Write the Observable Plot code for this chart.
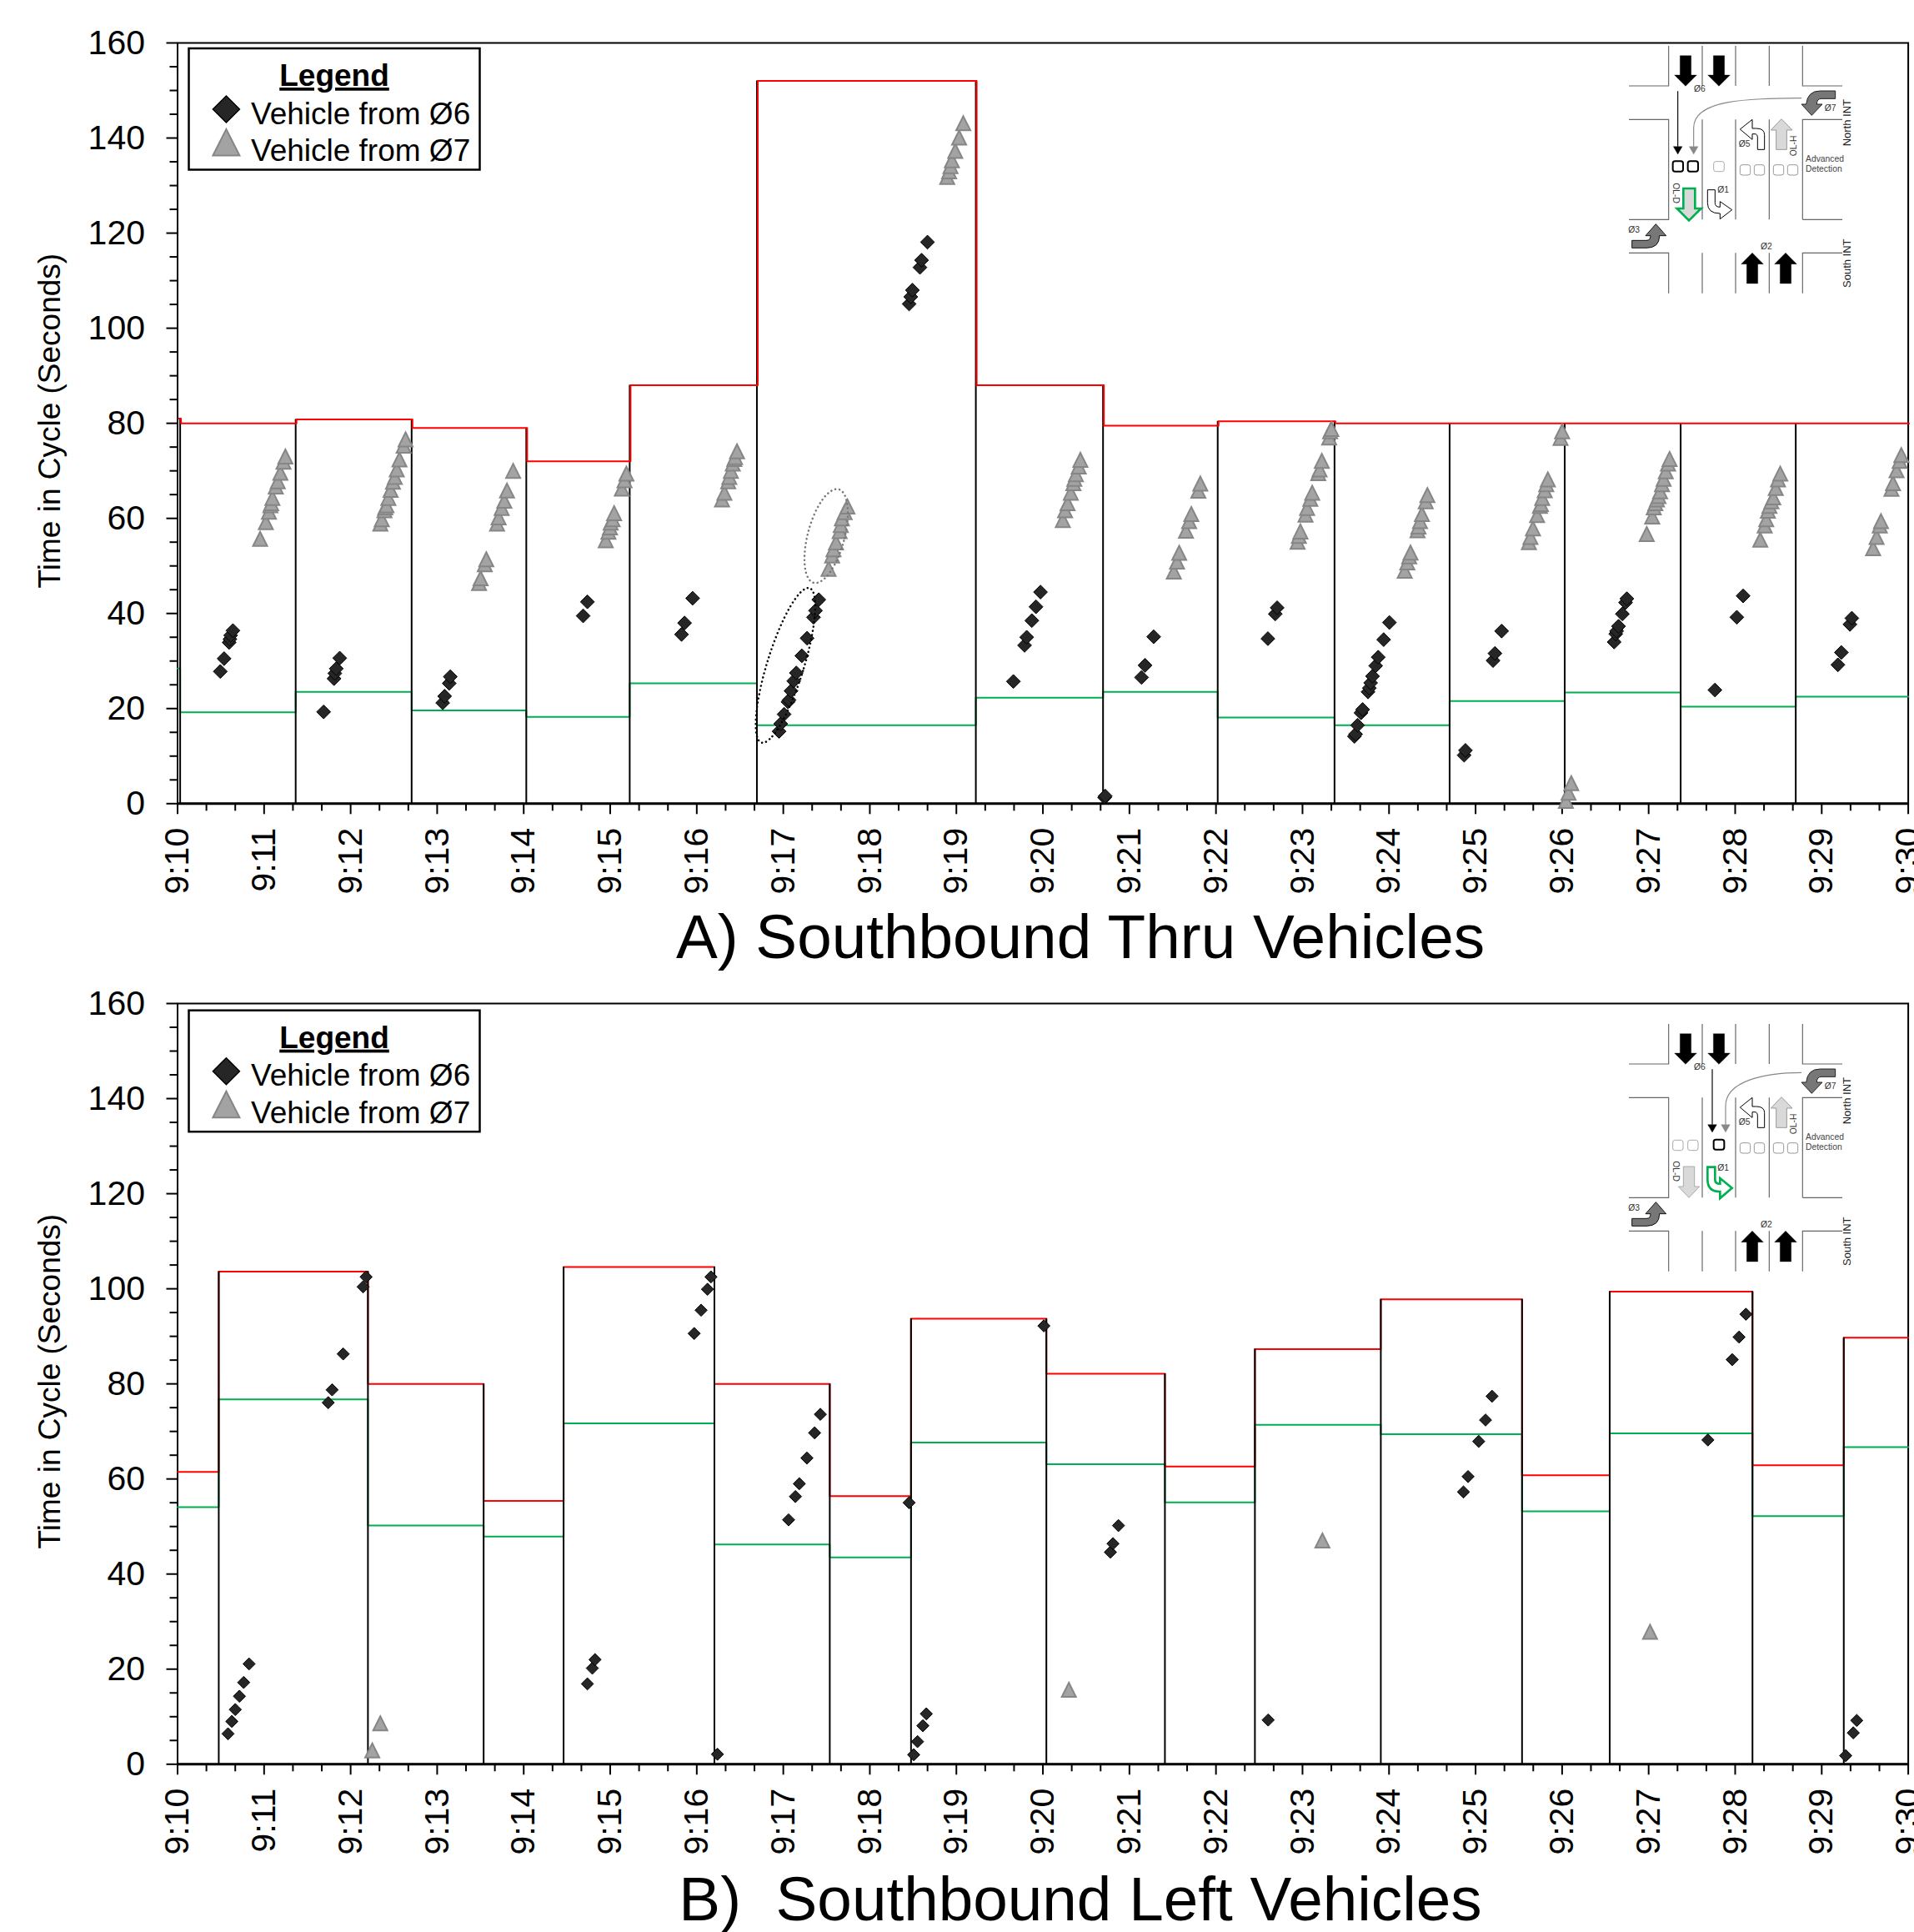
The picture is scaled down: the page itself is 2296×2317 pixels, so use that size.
<!DOCTYPE html>
<html><head><meta charset="utf-8">
<script src="https://cdn.jsdelivr.net/npm/d3@7"></script>
<script src="https://cdn.jsdelivr.net/npm/@observablehq/plot@0.6"></script>
<style>
html,body{margin:0;padding:0;background:#fff;}
body{position:relative;width:2296px;height:2317px;overflow:hidden;font-family:"Liberation Sans",Arial,sans-serif;}
.chart{position:absolute;left:0;}
.title{position:absolute;left:1296px;transform:translateX(-50%);font-size:74.7px;line-height:80px;white-space:pre;color:#000;}
</style></head><body>
<div id="a" class="chart" style="top:0"></div>
<div class="title" style="top:1083px">A) Southbound Thru Vehicles</div>
<div id="b" class="chart" style="top:1152.3px"></div>
<div class="title" style="top:2237px">B)  Southbound Left Vehicles</div>
<script>
// Axis content
const tickLabels = ["9:10","9:11","9:12","9:13","9:14","9:15","9:16","9:17","9:18","9:19","9:20","9:21","9:22","9:23","9:24","9:25","9:26","9:27","9:28","9:29","9:30"];
const majorXTicks = d3.range(0,21);
const minorXTicks = d3.range(0,20).flatMap(m=>[m+1/3,m+2/3]);
const majorYTicks = d3.range(0,161,20);
const minorYTicks = d3.range(5,160,5).filter(v=>v%20);

// Panel A: cycle starts (minutes after 9:10), red and green levels (s)
const thruStarts = [0,0.03,1.365,2.705,4.03,5.225,6.695,9.225,10.695,12.02,13.37,14.70,16.03,17.37,18.70];
const thruRed    = [81,80,80.8,79,72,88,152,88,79.5,80.4,80,80,80,80,80];
const thruGreen  = [28.4,19.2,23.5,19.6,18.25,25.3,16.5,22.3,23.5,18.1,16.5,21.6,23.4,20.4,22.5];
// Panel A vehicles [minutes after 9:10, seconds in cycle]
const thruFrom6 = [[.494,27.8],[.538,30.5],[.596,33.9],[.605,34.6],[.614,35.4],[.64,36.4],
[1.688,19.3],[1.808,26.3],[1.817,27.4],[1.834,28.4],[1.874,30.6],
[3.064,21.2],[3.086,22.6],[3.139,25.3],[3.152,26.7],
[4.687,39.5],[4.736,42.45],
[5.824,35.6],[5.859,38],[5.952,43.2],
[6.951,15.2],[6.97,16.8],[7.009,18.8],[7.054,21.4],[7.067,21.8],[7.089,23.7],[7.121,25.8],[7.15,27.5],[7.214,31.1],[7.275,34.8],[7.349,39.2],[7.372,40.6],[7.41,42.9],
[8.454,105.1],[8.473,106.6],[8.492,108],[8.579,112.8],[8.598,114.3],[8.666,118.1],
[9.659,25.7],[9.788,33.3],[9.813,35],[9.872,38.5],[9.92,41.4],[9.972,44.5],
[10.713,1.3],[10.72,1.6],[11.14,26.55],[11.18,29.1],[11.28,35.1],
[12.6,34.7],[12.685,39.9],[12.707,41.2],
[13.6,14.15],[13.614,14.6],[13.636,16.5],[13.676,19.1],[13.695,19.8],[13.757,23.5],[13.772,24.3],[13.787,25.4],[13.809,26.8],[13.846,29],[13.875,30.8],[13.938,34.5],[14.004,38.1],
[14.868,10.2],[14.883,11.2],[15.202,30.1],[15.224,31.6],[15.301,36.3],
[16.601,34],[16.62,35.7],[16.63,36.3],[16.652,37.3],[16.696,39.9],[16.733,42.3],[16.748,43.1],
[17.766,23.9],[18.019,39.2],[18.092,43.7],
[19.187,29.2],[19.227,31.8],[19.326,37.7],[19.348,39]];
const thruFrom7 = [[.954,55.7],[1.02,59.2],[1.056,61.4],[1.073,62.75],[1.082,63.2],[1.096,64.3],[1.135,66.7],[1.158,67.8],[1.188,69.6],[1.224,71.9],[1.246,73],
[2.343,58.9],[2.36,59.8],[2.391,61.7],[2.4,62.3],[2.414,62.75],[2.436,64.3],[2.462,66],[2.489,67.7],[2.511,68.7],[2.533,70.3],[2.564,72.4],[2.613,75.3],[2.635,76.6],
[3.484,46.4],[3.502,47.4],[3.55,50.35],[3.568,51.4],[3.692,58.9],[3.71,60.2],[3.745,62.2],[3.776,63.7],[3.807,65.85],[3.878,70],
[4.948,55.4],[4.979,57.2],[4.997,58.1],[5.005,59.1],[5.028,59.8],[5.045,61.1],[5.134,66.25],[5.165,68],[5.187,69.4],
[6.292,64],[6.319,65.4],[6.363,67.8],[6.376,68.7],[6.394,70],[6.416,71.5],[6.434,72.5],[6.443,72.9],[6.465,74.1],
[7.523,49.4],[7.564,52.2],[7.58,53.5],[7.609,54.96],[7.651,57.3],[7.664,58.6],[7.677,60],[7.709,61.3],[7.741,62.5],
[8.894,131.8],[8.916,133],[8.932,134.1],[8.948,135.3],[8.987,137.3],[9.032,140.1],[9.08,143.1],
[10.23,59.65],[10.256,61.7],[10.285,63.2],[10.322,65.4],[10.352,67.4],[10.363,68.3],[10.381,69.3],[10.414,70.9],[10.433,72.3],
[11.513,48.8],[11.55,50.9],[11.575,52.75],[11.653,57.4],[11.69,59.4],[11.715,60.9],[11.796,65.8],[11.819,67.3],
[12.943,55.1],[12.958,56.3],[12.976,57.25],[13.035,60.8],[13.053,62.2],[13.09,64.1],[13.112,65.4],[13.182,69.5],[13.197,70.3],[13.223,72.1],[13.308,77],[13.319,78.3],[13.333,78.8],
[14.181,49],[14.211,50.75],[14.233,52],[14.248,52.8],[14.329,57.5],[14.34,58.3],[14.358,59.4],[14.38,60.9],[14.424,63.6],[14.443,64.9],
[15.616,55],[15.634,56.1],[15.663,57.9],[15.711,60.7],[15.744,62.6],[15.755,63],[15.77,64.3],[15.799,65.9],[15.817,67.2],[15.835,68.2],[15.982,76.9],[16,78.3],
[16.044,.6],[16.074,2.3],[16.106,4.3],
[16.978,56.7],[17.041,60.4],[17.059,62.3],[17.077,63.2],[17.096,64],[17.114,64.7],[17.132,65.7],[17.154,67.2],[17.173,68.3],[17.198,69.9],[17.224,71.5],[17.242,72.5],
[18.29,55.5],[18.341,58.5],[18.359,59.8],[18.378,61.6],[18.396,62.6],[18.418,63.6],[18.44,64.4],[18.469,66.4],[18.495,68.2],[18.521,69.4],
[19.594,53.7],[19.634,56.1],[19.671,58.5],[19.685,59.4],[19.806,66.2],[19.824,67.4],[19.865,70.1],[19.901,72.1],[19.92,73.3]];

// Panel B
const leftStarts = [0,.476,2.2,3.537,4.461,6.204,7.537,8.476,10.04,11.41,12.45,13.905,15.537,16.55,18.2,19.255];
const leftRed    = [61.5,103.6,80,55.4,104.6,80,56.4,93.7,82.15,62.6,87.3,97.8,60.8,99.4,62.9,89.7];
const leftGreen  = [54.07,76.75,50.2,47.9,71.7,46.2,43.5,67.66,63.1,55.1,71.4,69.4,53.2,69.6,52.2,66.7];
const leftFrom6 = [[.583,6.4],[.627,9],[.667,11.5],[.715,14.3],[.764,17.2],[.826,21.1],[1.741,76.05],[1.786,78.75],[1.914,86.3],[2.144,100.4],[2.179,102.5],
[4.736,16.9],[4.793,20.2],[4.824,22],[5.97,90.6],[6.05,95.5],[6.124,99.9],[6.164,102.5],[6.239,2.1],
[7.061,51.4],[7.14,56.3],[7.185,59],[7.273,64.4],[7.362,69.7],[7.428,73.6],[8.454,55],
[8.507,2],[8.551,4.76],[8.613,8.1],[8.653,10.6],[10.011,92.2],[10.78,44.6],[10.81,46.4],[10.873,50.2],[12.603,9.3],
[14.86,57.26],[14.913,60.5],[15.036,67.9],[15.115,72.4],[15.19,77.4],[17.685,68.2],[17.966,85.1],[18.045,89.85],[18.124,94.65],
[19.277,1.8],[19.365,6.6],[19.405,9.2]];
const leftFrom7 = [[2.25,2.9],[2.343,8.6],[10.3,15.65],[13.23,47.06],[17.016,27.85]];

const FONT = '"Liberation Sans",Arial,sans-serif';
const tallTriangle = {draw(c,size){const s=Math.sqrt(size),w=.6*s,h=.6*s;c.moveTo(0,-h);c.lineTo(w,h);c.lineTo(-w,h);c.closePath();}};

function levelRows(starts,levels){
  const rows=starts.map((t,i)=>({t,v:levels[i]}));
  rows.push({t:20,v:levels[levels.length-1]});
  return rows;
}
function boundaries(starts,red){
  return starts.slice(1).map((t,i)=>({t,top:Math.max(red[i],red[i+1])}));
}

function makeChart(cfg){
  const redLine = Plot.line(levelRows(cfg.starts,cfg.red),{x:"t",y:"v",curve:"step-after",stroke:"#ff0000",strokeWidth:2,dx:cfg.redOver?1:0});
  const greenLine = Plot.line(levelRows(cfg.starts,cfg.green),{x:"t",y:"v",curve:"step-after",stroke:"#00b050",strokeWidth:2});
  const black = Plot.ruleX(boundaries(cfg.starts,cfg.red),{x:"t",y1:0,y2:"top",stroke:"#000",strokeWidth:2});
  return Plot.plot({
    width:2296,height:1110,
    marginLeft:212.5,marginRight:7.4,marginTop:51,marginBottom:146.7,
    style:{fontFamily:FONT,background:"transparent",overflow:"visible",color:"#000"},
    x:{domain:[0,20]},y:{domain:[0,160]},
    marks:[
      Plot.frame({stroke:"#000",strokeWidth:2}),
      greenLine,
      cfg.redOver?null:redLine,
      black,
      cfg.redOver?redLine:null,
      Plot.ruleY([0],{stroke:"#000",strokeWidth:3}),
      Plot.axisX({ticks:minorXTicks,tickSize:9,text:null,label:null,strokeWidth:2}),
      Plot.axisX({ticks:majorXTicks,tickFormat:d=>tickLabels[d],tickRotate:-90,tickSize:13,tickPadding:16,fontSize:41,label:null,strokeWidth:2}),
      Plot.axisY({ticks:minorYTicks,tickSize:9,text:null,label:null,strokeWidth:2}),
      Plot.axisY({ticks:majorYTicks,tickSize:13,tickPadding:26,fontSize:41,label:null,strokeWidth:2}),
      Plot.text(["Time in Cycle (Seconds)"],{frameAnchor:"left",textAnchor:"middle",rotate:-90,dx:-153,dy:-3,fontSize:37,fill:"#000"}),
      Plot.dot(cfg.from7,{x:d=>d[0],y:d=>d[1],symbol:tallTriangle,r:cfg.triR,fill:"#a3a3a3",stroke:"#868686",strokeWidth:2}),
      Plot.dot(cfg.from6,{x:d=>d[0],y:d=>d[1],symbol:"diamond2",r:cfg.diaR,fill:"#262626",stroke:"#000",strokeWidth:1})
    ]
  });
}

function addLegend(svg,dy){
  const g=svg.append("g").attr("transform",`translate(0,${dy})`).attr("text-anchor","start");
  g.append("rect").attr("x",226.5).attr("y",58).attr("width",349).attr("height",145.5).attr("fill","#fff").attr("stroke","#000").attr("stroke-width",2.5);
  g.append("text").attr("x",401).attr("y",103).attr("text-anchor","middle").attr("font-size",37).attr("font-weight","bold").attr("text-decoration","underline").text("Legend");
  g.append("path").attr("d","M271.4 115 L287.4 131 L271.4 147 L255.4 131 Z").attr("fill","#262626").attr("stroke","#000").attr("stroke-width",1.5);
  g.append("path").attr("d","M271.4 155 L287.4 186.5 L255.4 186.5 Z").attr("fill","#a3a3a3").attr("stroke","#868686").attr("stroke-width",2);
  g.append("text").attr("x",301).attr("y",148.5).attr("font-size",37).text("Vehicle from Ø6");
  g.append("text").attr("x",301).attr("y",193).attr("font-size",37).text("Vehicle from Ø7");
}

function addInset(svg,ty,mode){
  const g=svg.append("g").attr("transform",`translate(1900,${ty}) scale(${1/3})`).attr("font-family",FONT).attr("text-anchor","start");
  const roads=["M162 219H305V75","M426 75V219","M546 75V219","M667 75V219","M787 75V219H930",
    "M162 340H305V700H162","M426 340V700","M546 340V700","M667 340V700","M787 700H930M787 700V340H930",
    "M162 820H305V965","M426 820V965","M546 820V965","M667 820V965","M787 965V820H930"];
  g.append("path").attr("d",roads.join("")).attr("fill","none").attr("stroke","#666").attr("stroke-width",3.5);
  const p=(d,f,s,w)=>g.append("path").attr("d",d).attr("fill",f).attr("stroke",s).attr("stroke-width",w);
  const t=(x,y,str,fs,col,rot)=>{const e=g.append("text").attr("font-size",fs).attr("fill",col||"#333").text(str);
    if(rot!=null)e.attr("transform",`translate(${x},${y}) rotate(${rot})`);else e.attr("x",x).attr("y",y);return e;};
  // through arrows
  for(const x of [366,486]) p(`M${x-20} 110H${x+20}V180H${x+40}L${x} 220L${x-40} 180H${x-20}Z`,"#000","#000",1);
  for(const x of [606,726]) p(`M${x-20} 930H${x+20}V860H${x+40}L${x} 820L${x-40} 860H${x-20}Z`,"#000","#000",1);
  // turning arrows
  p("M905 237V265H855Q838 265 838 285H858L820 325L783 285H800Q805 237 850 237Z","#777","#222",3);
  p("M173 775H225Q240 775 240 758H222L259 716L296 758H272Q272 802 225 802H173Z","#777","#111",3);
  p("M650 448V395Q650 372 620 372H606V340L562 375L606 412V392H615Q625 392 625 405V448Z","#fff","#000",3);
  p("M692 448V378H673L711 338L750 378H730V448Z","#d9d9d9","#999",3);
  // OL-D and O1
  if(mode==="thru"){
    p("M358 588V660H335L378 703L422 660H400V588Z","#d9d9d9","#00b050",8);
    p("M445 593H472V640Q472 655 490 655V635L533 665L490 698V678Q445 678 445 640Z","#fff","#000",3);
  }else{
    p("M358 588V660H340L378 700L416 660H398V588Z","#d9d9d9","#aaa",3);
    p("M445 590H472V635Q472 650 490 650V630L533 665L490 702V678Q445 678 445 635Z","#fff","#00b050",8);
  }
  // detector paths
  const lx = mode==="thru"?338:462, gx = mode==="thru"?395:510;
  p(`M${lx} 238V437`,"none","#000",3.5);
  p(`M${lx-16} 437H${lx+16}L${lx} 465Z`,"#000","#000",1);
  p(`M783 ${mode==="thru"?263:250}C${mode==="thru"?"600 265 395 265 395 370":"650 250 510 280 510 370"}V437`,"none","#888",3.5);
  p(`M${gx-16} 437H${gx+16}L${gx} 465Z`,"#888","#888",1);
  // detectors
  const box=(x,y,w,h,s,sw)=>g.append("rect").attr("x",x).attr("y",y).attr("width",w).attr("height",h).attr("rx",8).attr("fill","#fff").attr("stroke",s).attr("stroke-width",sw);
  const on = mode==="thru";
  box(320,on?490:493,37,37,on?"#000":"#aaa",on?6:3);
  box(374,on?490:493,37,37,on?"#000":"#aaa",on?6:3);
  box(467,491,38,36,on?"#aaa":"#000",on?3:6);
  for(const x of [562,613,682,733]) box(x,503,37,37,"#999",3);
  // labels
  t(396,240,"Ø6",31); t(866,310,"Ø7",31); t(557,438,"Ø5",31); t(481,604,"Ø1",31);
  t(160,747,"Ø3",31); t(636,807,"Ø2",31);
  t(766,472,"OL-H",31,"#333",-90); t(322,568,"OL-D",31,"#333",90);
  t(798,491,"Advanced",31,"#444"); t(798,527,"Detection",31,"#444");
  t(961,436,"North INT",39,"#222",-90); t(961,945,"South INT",39,"#222",-90);
}

// Panel A
const chartA = makeChart({starts:thruStarts,red:thruRed,green:thruGreen,from6:thruFrom6,from7:thruFrom7,redOver:true,diaR:7.5,triR:8});
document.getElementById("a").append(chartA);
const svgA=d3.select(chartA);
svgA.attr("font-family",FONT);
// dotted ellipses around the two platoons of the 9:17 cycle
function ellipse(chart,svg,cx,cy,a,b,deg,col){
  const X=chart.scale("x").apply(cx),Y=chart.scale("y").apply(cy);
  svg.append("ellipse").attr("transform",`translate(${X},${Y}) rotate(${deg})`).attr("rx",b).attr("ry",a)
    .attr("fill","none").attr("stroke",col).attr("stroke-width",2.5).attr("stroke-linecap","round").attr("stroke-dasharray","0.1 5");
}
ellipse(chartA,svgA,7.03,29,97,22,17.3,"#000");
ellipse(chartA,svgA,7.5,56.2,58,22,15,"#777");
addLegend(svgA,0);
addInset(svgA,30,"thru");

// Panel B
const chartB = makeChart({starts:leftStarts,red:leftRed,green:leftGreen,from6:leftFrom6,from7:leftFrom7,redOver:false,diaR:6.6,triR:8});
document.getElementById("b").append(chartB);
const svgB=d3.select(chartB);
svgB.attr("font-family",FONT);
addLegend(svgB,1.7);
addInset(svgB,51,"left");
</script>
</body></html>
